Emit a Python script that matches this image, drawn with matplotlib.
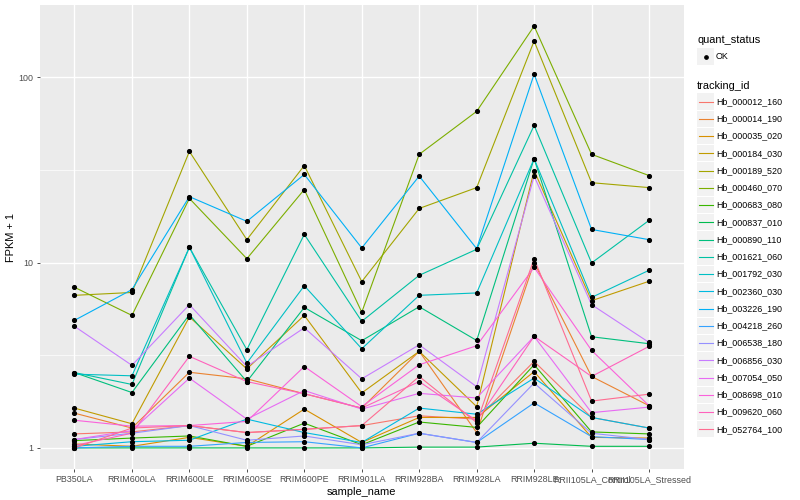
import numpy as np
import matplotlib
matplotlib.use("Agg")
import matplotlib.pyplot as plt
from matplotlib.lines import Line2D
from matplotlib.patches import Rectangle
from matplotlib.ticker import FixedLocator, NullFormatter

plt.rcParams['font.family'] = ['Liberation Sans', 'DejaVu Sans']

samples = ["PB350LA", "RRIM600LA", "RRIM600LE", "RRIM600SE", "RRIM600PE", "RRIM901LA",
           "RRIM928BA", "RRIM928LA", "RRIM928LE", "RRII105LA_Control", "RRII105LA_Stressed"]

tracking_ids = ["Hb_000012_160", "Hb_000014_190", "Hb_000035_020", "Hb_000184_030",
                "Hb_000189_520", "Hb_000460_070", "Hb_000683_080", "Hb_000837_010",
                "Hb_000890_110", "Hb_001621_060", "Hb_001792_030", "Hb_002360_030",
                "Hb_003226_190", "Hb_004218_260", "Hb_006538_180", "Hb_006856_030",
                "Hb_007054_050", "Hb_008698_010", "Hb_009620_060", "Hb_052764_100"]

colors = ["#F8766D", "#EA8331", "#D89000", "#C09B00", "#A3A500", "#7CAE00", "#39B600",
          "#00BB4E", "#00BF7D", "#00C1A3", "#00BFC4", "#00BAE0", "#00B0F6", "#35A2FF",
          "#9590FF", "#C77CFF", "#E76BF3", "#FA62DB", "#FF62BC", "#FF6C91"]

# FPKM + 1 values per tracking id, in sample order
hb_000012_160 = [1.19, 1.22, 1.32, 1.21, 1.26, 1.32, 1.49, 1.43, 2.93, 1.46, 1.28]
hb_000014_190 = [1.54, 1.28, 2.56, 2.36, 1.96, 1.64, 3.32, 1.21, 10.0, 2.43, 1.69]
hb_000035_020 = [1.05, 1.02, 1.14, 1.02, 1.62, 1.07, 1.46, 1.46, 2.58, 1.14, 1.13]
hb_000184_030 = [1.64, 1.35, 5.09, 2.67, 5.19, 1.98, 3.32, 1.67, 31.4, 6.23, 7.93]
hb_000189_520 = [6.66, 6.9, 39.8, 13.3, 33.4, 7.9, 19.6, 25.4, 157.0, 27.0, 25.4]
hb_000460_070 = [7.36, 5.19, 22.2, 10.5, 24.8, 5.4, 38.4, 65.5, 189.0, 38.4, 29.5]
hb_000683_080 = [1.095, 1.13, 1.16, 1.02, 1.36, 1.04, 1.38, 1.29, 2.81, 1.22, 1.19]
hb_000837_010 = [1.0, 1.0, 1.0, 1.0, 1.0, 1.0, 1.01, 1.01, 1.06, 1.02, 1.02]
hb_000890_110 = [2.55, 1.99, 5.24, 2.28, 5.73, 3.79, 5.78, 3.8, 36.4, 3.98, 3.65]
hb_001621_060 = [2.55, 2.2, 12.1, 3.39, 14.2, 4.82, 8.54, 11.8, 55.0, 9.96, 16.9]
hb_001792_030 = [2.5, 2.45, 12.1, 2.87, 7.5, 3.43, 6.66, 6.86, 36.4, 6.49, 9.09]
hb_002360_030 = [1.02, 1.08, 1.10, 1.43, 1.21, 1.07, 1.64, 1.52, 2.38, 1.46, 1.28]
hb_003226_190 = [4.88, 7.15, 22.7, 16.7, 29.9, 12.0, 29.3, 11.9, 104.0, 15.1, 13.3]
hb_004218_260 = [1.0, 1.02, 1.02, 1.07, 1.08, 1.0, 1.2, 1.07, 1.75, 1.15, 1.11]
hb_006538_180 = [1.11, 1.2, 1.32, 1.10, 1.16, 1.04, 1.2, 1.07, 2.24, 1.2, 1.11]
hb_006856_030 = [4.53, 2.79, 5.93, 2.75, 4.45, 2.36, 3.6, 2.14, 29.3, 5.93, 3.71]
hb_007054_050 = [1.11, 1.24, 2.38, 1.43, 2.04, 1.62, 1.97, 1.86, 4.0, 1.55, 1.66]
hb_008698_010 = [1.41, 1.31, 1.32, 1.39, 2.75, 1.67, 2.81, 3.56, 9.43, 3.36, 1.69]
hb_009620_060 = [1.03, 1.2, 3.12, 2.28, 1.96, 1.64, 2.28, 1.4, 4.0, 2.43, 3.53]
hb_052764_100 = [1.0, 1.28, 1.32, 1.21, 1.26, 1.32, 2.43, 1.37, 10.5, 1.79, 1.95]

series = [hb_000012_160, hb_000014_190, hb_000035_020, hb_000184_030, hb_000189_520,
          hb_000460_070, hb_000683_080, hb_000837_010, hb_000890_110, hb_001621_060,
          hb_001792_030, hb_002360_030, hb_003226_190, hb_004218_260, hb_006538_180,
          hb_006856_030, hb_007054_050, hb_008698_010, hb_009620_060, hb_052764_100]

W, H = 800, 500
fig = plt.figure(figsize=(8, 5), dpi=100)
left, right, top, bottom = 40, 683.5, 5, 469
ax = fig.add_axes([left / W, 1 - bottom / H, (right - left) / W, (bottom - top) / H])
ax.set_facecolor("#EBEBEB")
for s in ax.spines.values():
    s.set_visible(False)

x = np.arange(1, len(samples) + 1)
for vals, c in zip(series, colors):
    ax.plot(x, vals, color=c, lw=0.8, solid_joinstyle='round', zorder=3)
for vals in series:
    ax.plot(x, vals, linestyle='none', marker='o', ms=2.7, color='black', zorder=4)

ax.set_yscale('log')
allv = np.log10(np.concatenate([np.asarray(v) for v in series]))
lo, hi = allv.min(), allv.max()
pad = 0.05 * (hi - lo)
ax.set_ylim(10 ** (lo - pad), 10 ** (hi + pad))
ax.set_xlim(0.4, len(samples) + 0.6)

ax.yaxis.set_major_locator(FixedLocator([1, 10, 100]))
ax.yaxis.set_minor_locator(FixedLocator([10 ** 0.5, 10 ** 1.5]))
ax.yaxis.set_minor_formatter(NullFormatter())
ax.set_yticklabels(["1", "10", "100"])
ax.set_xticks(x)
ax.set_xticklabels(samples)
ax.grid(True, which='major', color='white', lw=1.0, zorder=1)
ax.grid(True, which='minor', axis='y', color='white', lw=0.5, zorder=1)
ax.set_axisbelow(True)
ax.tick_params(axis='both', which='major', length=2.5, width=0.6, color='#333333',
               labelsize=6.4, labelcolor='#4D4D4D', pad=2)
ax.tick_params(axis='y', which='minor', length=0)
ax.set_xlabel("sample_name", fontsize=7.9, color='black', labelpad=2)
ax.set_ylabel("FPKM + 1", fontsize=7.9, color='black', labelpad=2)

# legend (drawn manually, ggplot style)
def fx(px):
    return px / W

def fy(py):
    return 1 - py / H

fig.text(fx(697), fy(40), "quant_status", fontsize=7.9, va='center', ha='left')
fig.patches.append(Rectangle((fx(697), fy(65)), 17 / W, 17 / H, transform=fig.transFigure,
                             facecolor='#F2F2F2', edgecolor='none'))
fig.lines.append(Line2D([fx(705.5)], [fy(56.5)], transform=fig.transFigure, marker='o',
                        ms=2.4, color='black', linestyle='none'))
fig.text(fx(716), fy(56.5), "OK", fontsize=6.4, va='center', ha='left')

fig.text(fx(697), fy(86), "tracking_id", fontsize=7.9, va='center', ha='left')
y0, step = 101.5, 17.25
for i, (name, c) in enumerate(zip(tracking_ids, colors)):
    yc = y0 + i * step
    fig.patches.append(Rectangle((fx(697), fy(yc + 8.2)), 17 / W, 16.4 / H,
                                 transform=fig.transFigure, facecolor='#F2F2F2',
                                 edgecolor='none'))
    fig.lines.append(Line2D([fx(698.5), fx(712.5)], [fy(yc), fy(yc)],
                            transform=fig.transFigure, color=c, lw=0.8))
    fig.text(fx(716), fy(yc), name, fontsize=6.4, va='center', ha='left')

fig.savefig("out.png", dpi=100, facecolor='white')
